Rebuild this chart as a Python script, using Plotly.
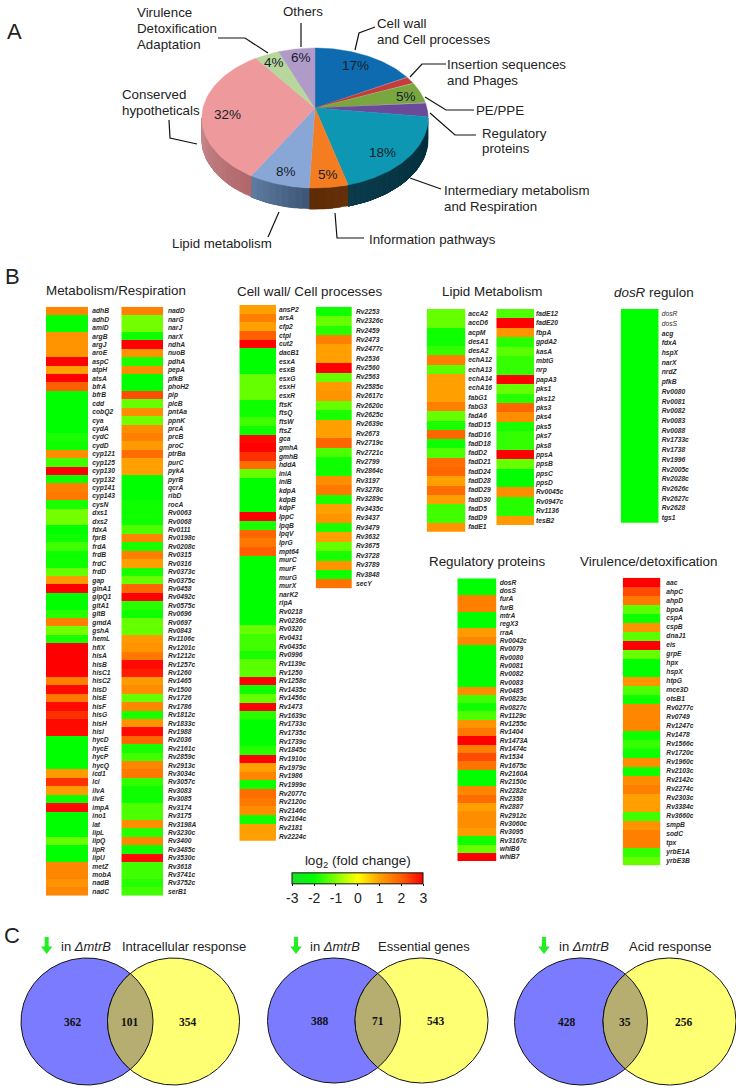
import numpy as np
import plotly.graph_objects as go

W, H = 736, 1089
FONT = "Liberation Sans"

# ---------- panel A data ----------
pie_names = ["Cell wall", "Insertion", "PE/PPE", "Regulatory", "Intermediary",
             "Information", "Lipid", "Conserved", "Virulence", "Others"]
pie_shares = [17, 1.7, 5, 3.3, 18.9, 4.8, 7.6, 31.7, 4, 6]
pie_colors = ["#0f6bb0", "#c43c3c", "#7aa640", "#6c4a9a", "#0e97b2",
              "#f47d22", "#89a7d6", "#ee9a9c", "#b7d79c", "#b09ac8"]
pie_side = {"Regulatory": ("#3a2a55", "#3a2a55"), "Intermediary": ("#032d3a", "#0a3b4c"),
            "Information": ("#63300a", "#5f2b05"), "Lipid": ("#3f5878", "#5d7a9f"),
            "Conserved": ("#b0686c", "#c88a8c")}
pie_pct = ["17%", "", "5%", "", "18%", "5%", "8%", "32%", "4%", "6%"]
pie_pct_xy = [(355, 65), None, (406, 96), None, (382, 152), (328, 174), (286, 171),
              (227, 114), (274, 62), (301, 57)]

# ---------- panel B data ----------
met1_genes = """adhB adhD amiD argB argJ aroE aspC atpH atsA bfrA bfrB cdd cobQ2 cya cydA cydC cydD cyp121 cyp125 cyp130 cyp132 cyp141 cyp143 cysN dxs1 dxs2 fdxA fprB frdA frdB frdC frdD gap glnA1 glpQ1 gltA1 gltB gmdA gshA hemL hflX hisA hisB hisC1 hisC2 hisD hisE hisF hisG hisH hisI hycD hycE hycP hycQ icd1 lcl ilvA ilvE impA ino1 lat lipL lipQ lipR lipU metZ mobA nadB nadC""".split()
met1_vals = [1.4, -2, -2, 1.2, 1.2, 1.2, 3, 1, 3, 2, -2, -2, -2, -2, -2, -1.8, -1.9, 1.3, -1.5, 3, -1.9, 1.5, 1.6, -1.8,
             -1.1, -1.1, -2, -1.9, -1.5, -1.9, -1.9, -1.2, 1.1, 3, -2, -2, -1.7, 1.5, -1.1, -1.8, 3, 3, 3, 3, 1.5, 2.9,
             1.6, 2.9, 2.5, 2.9, 2.9, -2, -2, -2, -2, 1.1, 2.5, 1.1, -1.9, 2.9, -2, -2, -2, -1.2, -2, -2, 1.4, 1.4, 1.2, 1.4]

met2_genes = """nadD narG narJ narX ndhA nuoB pdhA pepA pfkB phoH2 pip plcB pntAa ppnK prcA prcB proC ptrBa purC pykA pyrB qcrA ribD rocA Rv0063 Rv0068 Rv0111 Rv0198c Rv0208c Rv0315 Rv0316 Rv0373c Rv0375c Rv0458 Rv0492c Rv0575c Rv0696 Rv0697 Rv0843 Rv1106c Rv1201c Rv1212c Rv1257c Rv1260 Rv1465 Rv1500 Rv1726 Rv1786 Rv1812c Rv1833c Rv1988 Rv2036 Rv2161c Rv2859c Rv2913c Rv3034c Rv3057c Rv3083 Rv3085 Rv3174 Rv3175 Rv3198A Rv3230c Rv3400 Rv3485c Rv3530c Rv3618 Rv3741c Rv3752c serB1""".split()
met2_vals = [1.5, -1.1, -1.1, -1.9, 3, 1.2, -1.8, 1.3, -2, -2, 2.2, -1.2, 1.3, -1.1, 1.3, 1.5, 1.1, 1.8, 1, 1, -2, -2, -2, -1.9,
             -1.9, -1.9, -1.4, 1.4, -1.8, 1.5, 1, -1.8, -1.2, 1.9, 3, -1.7, -1.9, -1.2, -1.2, 1.1, 1.2, 1.6, 2.9, 2.7, 1.1,
             1.3, -1.2, 1.4, -1.8, 1.2, 2.9, 1.9, -1.8, -1.5, 1.4, 1.6, -1.6, -1.9, -1.9, -1.4, -1.4, 1.3, -1.7, 1.4, -1.9,
             2.9, -1.5, -1.5, -1.7, -1.5]

wall1_genes = """ansP2 arsA cfp2 ctpI cut2 dacB1 esxA esxB esxG esxH esxR ftsK ftsQ ftsW ftsZ gca gmhA gmhB hddA iniA iniB kdpA kdpB kdpF lppC lpqB lpqV lprG mpt64 murC murF murG murX narK2 ripA Rv0218 Rv0236c Rv0320 Rv0431 Rv0435c Rv0996 Rv1139c Rv1250 Rv1258c Rv1435c Rv1456c Rv1473 Rv1639c Rv1733c Rv1735c Rv1739c Rv1845c Rv1910c Rv1979c Rv1986 Rv1999c Rv2077c Rv2120c Rv2146c Rv2164c Rv2181 Rv2224c""".split()
wall1_vals = [1, 1.5, 1, 2, 3, -2, -2, -2, -1.2, -1.2, -1.2, -1.9, -1.9, -1.5, -1.9, 2.9, 3, 2.5, 1.8, -1.2, -2, -2, -2, -2, 3,
              -1.8, 1.9, 1.6, 2, -2, -2, -2, -2, -2, -2, -2, -2, -1.2, -1.5, -1.5, -1.8, -1.3, -1.3, 3, -1.9, -1.2, 3, -1.7,
              -2, -2, -2, -1.7, 3, 1, 1.4, -1.9, 1.8, 1.6, 1.3, -1.9, 1, 1]

wall2_genes = """Rv2253 Rv2326c Rv2459 Rv2473 Rv2477c Rv2536 Rv2560 Rv2563 Rv2585c Rv2617c Rv2620c Rv2625c Rv2639c Rv2673 Rv2719c Rv2721c Rv2799 Rv2864c Rv3197 Rv3278c Rv3289c Rv3435c Rv3437 Rv3479 Rv3632 Rv3675 Rv3728 Rv3789 Rv3848 secY""".split()
wall2_vals = [-1.9, -1.2, -1.7, 1.5, 1, 1, 3, -1.2, 1.1, 1.2, -1.2, -1.8, 1, 1, 1.9, -1.4, -1.9, -1.9, 1.3, 1.6, -1.8, 1, 1.2,
              -1.8, 1, -1.2, -1.8, 1.2, -1.9, 1.7]

lipid1_genes = """accA2 accD6 acpM desA1 desA2 echA12 echA13 echA14 echA16 fabG1 fabG3 fadA6 fadD15 fadD16 fadD18 fadD2 fadD21 fadD24 fadD28 fadD29 fadD30 fadD5 fadD9 fadE1""".split()
lipid1_vals = [-1.2, -1.2, -1.9, -1.9, -1.6, 1.5, -1.3, 1, 1, 1, 1.5, -1.2, -1.8, 1.9, -1.9, -1.4, 1.8, 1.9, 1, 1.8, 1, -1.5, -1.5, 1.2]

lipid2_genes = """fadE12 fadE20 fbpA gpdA2 kasA mbtG nrp papA3 pks1 pks12 pks3 pks4 pks5 pks7 pks8 ppsA ppsB ppsC ppsD Rv0045c Rv0947c Rv1136 tesB2""".split()
lipid2_vals = [-1.4, 3, 1.2, -1.7, -1.3, -1.6, -1.6, 3, -1.2, -1.7, 1.9, 1.3, -1.8, -1.6, -1.6, 3, -1.2, -2, -2, 1.3, -1.7, -1.7, 1.1]

dos_genes = """dosR dosS acg fdxA hspX narX nrdZ pfkB Rv0080 Rv0081 Rv0082 Rv0083 Rv0088 Rv1733c Rv1738 Rv1996 Rv2005c Rv2028c Rv2626c Rv2627c Rv2628 tgs1""".split()
dos_vals = [-2] * 22

reg_genes = """dosR dosS furA furB mtrA regX3 rraA Rv0042c Rv0079 Rv0080 Rv0081 Rv0082 Rv0083 Rv0485 Rv0823c Rv0827c Rv1129c Rv1255c Rv1404 Rv1473A Rv1474c Rv1534 Rv1675c Rv2160A Rv2150c Rv2282c Rv2358 Rv2887 Rv2912c Rv3060c Rv3095 Rv3167c whiB6 whiB7""".split()
reg_vals = [-2, -2, 1.5, 1.5, -2, -2, 1.1, 1.4, -2, -2, -2, -2, -2, 1.3, -1.5, -1.9, -1.4, 1.2, 1.6, 3, 1.5, 2.2, 1.7, -2, -2,
            1.4, 1.8, 1, 1.3, 1.3, 1.1, -1.9, -1.2, 3]

vir_genes = """aac ahpC ahpD bpoA cspA cspB dnaJ1 eis grpE hpx hspX htpG mce3D otsB1 Rv0277c Rv0749 Rv1247c Rv1478 Rv1566c Rv1720c Rv1960c Rv2103c Rv2142c Rv2274c Rv2303c Rv3384c Rv3660c smpB sodC tpx yrbE1A yrbE3B""".split()
vir_vals = [3, 2.2, 1.6, -1.3, -1.9, 1.2, -1.3, 3, -1.2, -2, -2, 1.2, -1.4, -1.9, 1.4, 1.4, 1.4, -1.9, -1.6, -1.9, 1.3, -1.9, 1.3,
            1.5, 1, 1, -1.5, 1.2, 1.5, 1.5, -1.6, -1.2]

cbar_ticks = [-3, -2, -1, 0, 1, 2, 3]

# ---------- panel C data ----------
venn_only_a = [362, 388, 428]
venn_both = [101, 71, 35]
venn_only_b = [354, 543, 256]
venn_titles = ["Intracellular response", "Essential genes", "Acid response"]

# ---------- layout geometry (pixels) ----------
columns = [
    (met1_genes, met1_vals, 46, 88.3, 306.7, 895.7),
    (met2_genes, met2_vals, 121.3, 163, 306.7, 895.7),
    (wall1_genes, wall1_vals, 239.3, 276, 305, 840.7),
    (wall2_genes, wall2_vals, 315.7, 352, 306.7, 588.3),
    (lipid1_genes, lipid1_vals, 426.7, 465.3, 309, 531.7),
    (lipid2_genes, lipid2_vals, 496.3, 534, 309, 525),
    (dos_genes, dos_vals, 620.7, 658.7, 309, 522.7),
    (reg_genes, reg_vals, 457.3, 496.7, 578.3, 861),
    (vir_genes, vir_vals, 622.7, 660.3, 577.7, 865.3),
]
label_gap = [3, 4, 2, 3, 2, 1, 2, 2, 5]

fig = go.Figure()
DARK = "#222222"

# ---------- pie (projective disc) ----------
CX, CY, BX, AY, P, DEPTH = 315, 108, 112, 68.6, 0.1429, 21


def rim(theta):
    u, v = np.sin(theta), np.cos(theta)
    d = 1 + P * v
    return CX + BX * u / d, CY - AY * v / d


def blend(c1, c2, t):
    a = [int(c1[i:i + 2], 16) for i in (1, 3, 5)]
    b = [int(c2[i:i + 2], 16) for i in (1, 3, 5)]
    return "rgb(%d,%d,%d)" % tuple(round(a[i] + (b[i] - a[i]) * t) for i in range(3))


bounds = np.radians(np.concatenate([[0], np.cumsum(pie_shares)]) * 3.6)
vis0, vis1 = np.arccos(-P), 2 * np.pi - np.arccos(-P)
for name, a0, a1 in zip(pie_names, bounds[:-1], bounds[1:]):
    if name not in pie_side:
        continue
    s0, s1 = max(a0, vis0), min(a1, vis1)
    if s1 <= s0:
        continue
    n = max(1, int(np.degrees(s1 - s0) / 3))
    edges = np.linspace(s0, s1, n + 1)
    # painted last-to-first so that each strip overlaps the one beside it and leaves no seam
    for i in range(n):
        t = np.linspace(edges[i], s1, 4 + (n - i))
        x, y = rim(t)
        px = np.concatenate([x, x[::-1]])
        py = np.concatenate([y, y[::-1] + DEPTH])
        col = blend(*pie_side[name], i / max(1, n - 1))
        fig.add_trace(go.Scatter(x=np.r_[px, px[0]], y=np.r_[py, py[0]], mode="lines", fill="toself", fillcolor=col,
                                 line=dict(color=col, width=0.3), hoverinfo="skip", showlegend=False))

for col, a0, a1 in zip(pie_colors, bounds[:-1], bounds[1:]):
    t = np.linspace(a0, a1, 60)
    x, y = rim(t)
    fig.add_trace(go.Scatter(x=np.r_[CX, x, CX], y=np.r_[CY, y, CY], mode="lines", fill="toself",
                             fillcolor=col, line=dict(color=col, width=0.4),
                             hoverinfo="skip", showlegend=False))

leaders = [
    [(169, 120), (170, 138), (197, 144)],
    [(218, 38), (245, 38), (268, 53)],
    [(301, 23), (301, 47)],
    [(375, 27), (359, 33), (355, 50)],
    [(446, 64), (422, 64), (410, 77)],
    [(474, 110), (446, 110), (425, 97)],
    [(476, 135), (455, 135), (430, 113)],
    [(441, 189), (410, 178)],
    [(364, 238), (337, 238), (335, 213)],
    [(268, 237), (279, 212)],
]
for pts in leaders:
    fig.add_trace(go.Scatter(x=[p[0] for p in pts], y=[p[1] for p in pts], mode="lines",
                             line=dict(color="#111111", width=1.2), hoverinfo="skip", showlegend=False))

# ---------- venn diagrams ----------
BLUE, YELLOW, OLIVE = "#7b7bff", "#ffff73", "#b5ae70"
venn_geo = [(87, 173.5, 1021.5, 66, 63.5), (334, 421.5, 1020.5, 66.5, 62.5), (581, 669.5, 1021.5, 66.5, 63.5)]
th = np.linspace(0, 2 * np.pi, 361)
for xa, xb, yc, rx, ry in venn_geo:
    for xc, col in ((xa, BLUE), (xb, YELLOW)):
        fig.add_trace(go.Scatter(x=xc + rx * np.cos(th), y=yc + ry * np.sin(th), mode="lines", fill="toself",
                                 fillcolor=col, line=dict(color="#111111", width=1),
                                 hoverinfo="skip", showlegend=False))
    half = np.arccos((xb - xa) / (2 * rx))
    ang = np.linspace(-half, half, 60)
    lx = np.r_[xa + rx * np.cos(ang), xb - rx * np.cos(ang[::-1])]
    ly = np.r_[yc + ry * np.sin(ang), yc + ry * np.sin(ang[::-1])]
    fig.add_trace(go.Scatter(x=np.r_[lx, lx[0]], y=np.r_[ly, ly[0]], mode="lines", fill="toself", fillcolor=OLIVE,
                             line=dict(color="#111111", width=1), hoverinfo="skip", showlegend=False))

# ---------- green "down" arrows ----------
venn_arrow_x = [46.7, 296, 544]
for ax_ in venn_arrow_x:
    fig.add_trace(go.Scatter(x=[ax_, ax_], y=[937, 947], mode="lines", line=dict(color="#22ee22", width=4),
                             hoverinfo="skip", showlegend=False))
    fig.add_trace(go.Scatter(x=[ax_], y=[949], mode="markers", marker=dict(symbol="triangle-down", size=10, color="#22ee22"),
                             hoverinfo="skip", showlegend=False))

# ---------- heat-map columns ----------
layout_axes = {}
for i, (genes, vals, x0, x1, y0, y1) in enumerate(columns):
    k = i + 2
    ticktext = []
    for g in genes:
        if genes is dos_genes and g in ("dosR", "dosS"):
            ticktext.append(f"<i>{g}</i>")
        else:
            ticktext.append(f"<b><i>{g}</i></b>")
    fig.add_trace(go.Heatmap(z=[[v] for v in vals], y=list(range(len(genes))), x=[0],
                             coloraxis="coloraxis", xaxis=f"x{k}", yaxis=f"y{k}", hoverinfo="skip"))
    layout_axes[f"xaxis{k}"] = dict(domain=[x0 / W, x1 / W], visible=False, anchor=f"y{k}", fixedrange=True)
    layout_axes[f"yaxis{k}"] = dict(domain=[1 - y1 / H, 1 - y0 / H], anchor=f"x{k}", side="right",
                                    autorange="reversed", tickmode="array", tickvals=list(range(len(genes))),
                                    ticktext=ticktext, tickfont=dict(family=FONT, size=6.7, color="#2a2a2a"),
                                    ticks="", showgrid=False, zeroline=False, showline=False,
                                    ticklabelstandoff=label_gap[i], fixedrange=True)

# ---------- text ----------
ann = []


def text(x, y, s, size=13.5, anchor="left", color=DARK, family=FONT):
    ann.append(dict(x=x, y=y, xref="x", yref="y", text=s, showarrow=False, xanchor=anchor, yanchor="middle",
                    xshift=-2 if anchor == "left" else 0, font=dict(family=family, size=size, color=color)))


for s, x, y in [("A", 14, 31), ("B", 12, 276), ("C", 12, 935)]:
    text(x, y, s, size=22, anchor="center")

for s, x, y in [("Virulence", 137, 12), ("Detoxification", 137, 28), ("Adaptation", 137, 44),
                ("Others", 283, 11), ("Cell wall", 377, 23), ("and Cell processes", 377, 39),
                ("Insertion sequences", 447, 64), ("and Phages", 447, 80), ("PE/PPE", 475.5, 110),
                ("Regulatory", 482, 133), ("proteins", 482, 148), ("Intermediary metabolism", 444, 190),
                ("and Respiration", 444, 206), ("Information pathways", 369, 239), ("Lipid metabolism", 172, 243),
                ("Conserved", 122, 94), ("hypotheticals", 122, 110)]:
    text(x, y, s, size=13.3)

for s, xy in zip(pie_pct, pie_pct_xy):
    if xy:
        text(xy[0], xy[1], s, size=13.5, anchor="center", color="#15202a")

for s, x, y in [("Metabolism/Respiration", 46, 290), ("Cell wall/ Cell processes", 237, 291),
                ("Lipid Metabolism", 442, 291), ("<i>dosR</i> regulon", 614, 292),
                ("Regulatory proteins", 429, 561), ("Virulence/detoxification", 580, 561)]:
    text(x, y, s, size=13.4)

venn_in_x = [61, 310, 559]
venn_title_x = [122, 378, 629]
for i in range(3):
    text(venn_in_x[i], 946, "in <i>ΔmtrB</i>", size=13)
    text(venn_title_x[i], 946, venn_titles[i], size=13)
    xa, xb, yc, rx, ry = venn_geo[i]
    mid = (xa + xb) / 2
    text(xa - 14, yc, f"<b>{venn_only_a[i]}</b>", size=11.5, anchor="center", family="Liberation Serif", color="#111")
    text(mid, yc, f"<b>{venn_both[i]}</b>", size=11.5, anchor="center", family="Liberation Serif", color="#111")
    text(xb + 14, yc, f"<b>{venn_only_b[i]}</b>", size=11.5, anchor="center", family="Liberation Serif", color="#111")

scale_vals = [-3, -2, -1, 0, 1, 2, 3]
scale_cols = ["#18e028", "#00ff00", "#80ff00", "#ffff00", "#ffa000", "#ff5f00", "#ff0000"]
colorscale = [[(v + 3) / 6, c] for v, c in zip(scale_vals, scale_cols)]

fig.update_layout(
    width=W, height=H, margin=dict(l=0, r=0, t=0, b=0, pad=0), autosize=False,
    paper_bgcolor="white", plot_bgcolor="rgba(0,0,0,0)", showlegend=False,
    xaxis=dict(range=[0, W], domain=[0, 1], visible=False, fixedrange=True),
    yaxis=dict(range=[H, 0], domain=[0, 1], visible=False, fixedrange=True),
    annotations=ann,
    coloraxis=dict(cmin=-3, cmax=3, colorscale=colorscale, colorbar=dict(
        orientation="h", lenmode="pixels", len=131, thicknessmode="pixels", thickness=11,
        x=357.8 / W, xanchor="center", y=1 - 855.7 / H, yanchor="top", xpad=0, ypad=0,
        tickmode="array", tickvals=cbar_ticks, ticktext=[str(t) for t in cbar_ticks], ticks="outside", ticklen=2,
        tickcolor="#111", tickfont=dict(family=FONT, size=14, color=DARK),
        outlinewidth=1, outlinecolor="#111",
        title=dict(text="log<sub>2</sub> (fold change)", side="top", font=dict(family=FONT, size=13.5, color=DARK)))),
    **layout_axes,
)

fig.write_html("out.html", config={"displayModeBar": False}, post_script="document.body.style.margin='0';")
